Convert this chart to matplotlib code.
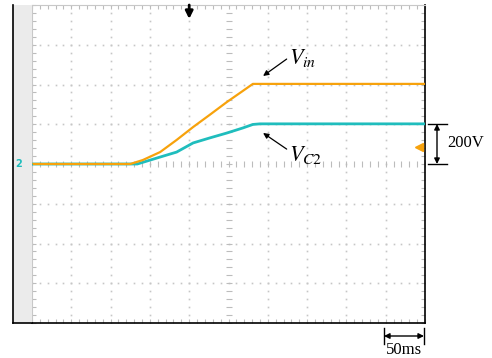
import numpy as np
import matplotlib
matplotlib.use("Agg")
import matplotlib.pyplot as plt
from matplotlib.patches import Rectangle
from matplotlib.lines import Line2D


# =========================================================
# DATA  (time in ms, voltage in V)
# =========================================================

t_in = [0, 99, 125, 141, 163, 184, 205, 226, 248, 268, 281, 500]
v_in = [0, 0, 0, 20, 60, 121, 186, 247, 312, 367, 403, 403]

t_c2 = [0, 134, 163, 184, 205, 226, 248, 268, 281, 290, 500]
v_c2 = [0, 0, 35, 60, 106, 131, 156, 181, 199, 202, 202]

trig_time = 200      # ms
trig_level = 86      # V

label_in = r"$V_{in}$"
label_c2 = r"$V_{C\mathit{2}}$"
volt_div = "200V"
time_div = "50ms"


# =========================================================
# STYLE
# =========================================================

ORANGE = "#f7a20c"
CYAN = "#1fbdbd"
GRID = "#c6c6c6"
TICK = "#bcbcbc"

plt.rcParams["mathtext.fontset"] = "stix"
plt.rcParams["font.family"] = ["Liberation Serif", "DejaVu Serif"]

W, H = 492, 358


def fx(x):
    return x / W


def fy(y):
    return 1 - y / H


# =========================================================
# FIGURE
# =========================================================

fig = plt.figure(figsize=(W / 100, H / 100), dpi=100)
ax = fig.add_axes([fx(32), fy(323), fx(425) - fx(32), fy(5) - fy(323)])
ax.set_xlim(0, 500)
ax.set_ylim(-800, 800)

# gray strip on the left + outer frame
fig.patches.append(Rectangle((fx(13), fy(323)), fx(32) - fx(13), fy(5) - fy(323),
                             transform=fig.transFigure, facecolor="#ebebeb",
                             edgecolor="none", zorder=0))
fig.add_artist(Line2D([fx(13), fx(13)], [fy(323), fy(5)], color="black", lw=1.2))
fig.add_artist(Line2D([fx(13), fx(32)], [fy(323), fy(323)], color="black", lw=1.2))

for side in ["top", "left"]:
    ax.spines[side].set_color("#c8c8c8")
for side in ["right", "bottom"]:
    ax.spines[side].set_color("black")
    ax.spines[side].set_linewidth(1.2)

# edge ticks (5 per division)
ax.set_xticks(np.arange(0, 501, 10))
ax.set_yticks(np.arange(-800, 801, 40))
ax.tick_params(direction="in", length=3, width=0.8, color=TICK,
               top=True, right=True, labelbottom=False, labelleft=False)

# dotted graticule
xs = np.arange(0, 501, 10)
ys = np.arange(-800, 801, 40)
for xg in range(50, 500, 50):
    if xg == 250:
        continue
    ax.plot(np.full(len(ys), xg), ys, ls="none", marker="s", ms=1.2,
            mew=0, color=GRID, zorder=1)
for yg in [-600, -400, -200, 200, 400, 600]:
    ax.plot(xs, np.full(len(xs), yg), ls="none", marker="s", ms=1.2,
            mew=0, color=GRID, zorder=1)

# center cross with tick marks
ax.plot(xs, np.zeros(len(xs)), ls="none", marker="|", ms=4, mew=0.8,
        color=TICK, zorder=1)
ax.plot(np.full(len(ys), 250), ys, ls="none", marker="_", ms=4, mew=0.8,
        color=TICK, zorder=1)

# =========================================================
# TRACES
# =========================================================

ax.plot(t_c2, v_c2, color=CYAN, lw=2.0, zorder=3)
ax.plot(t_in, v_in, color=ORANGE, lw=1.6, zorder=4)

# trigger position / level markers
ax.annotate("", xy=(trig_time, 730), xytext=(trig_time, 800),
            arrowprops=dict(arrowstyle="-|>", color="black", lw=2.0,
                            mutation_scale=11, shrinkA=0, shrinkB=0),
            annotation_clip=False, zorder=5)
ax.plot([492], [trig_level], marker="<", color=ORANGE, ms=6, ls="none",
        clip_on=False, zorder=5)

# channel ground marker
ax.plot([-9, -4], [0, 0], color=ORANGE, lw=1.2, clip_on=False, zorder=5)
ax.plot([-4], [0], marker=">", color=CYAN, ms=4, ls="none", clip_on=False, zorder=5)
fig.text(fx(18.5), fy(164), "2", color=CYAN, fontsize=7, fontweight="bold",
         ha="center", va="center", family="DejaVu Sans")

# =========================================================
# LABELS
# =========================================================

arrow_kw = dict(arrowstyle="-|>", color="black", lw=0.9, mutation_scale=8,
                shrinkA=0, shrinkB=0)

ax.annotate("", xy=(294, 443), xytext=(324, 528), arrowprops=arrow_kw)
ax.text(327, 503, label_in, fontsize=16, ha="left", va="baseline")

ax.annotate("", xy=(294, 156), xytext=(324, 75), arrowprops=arrow_kw)
ax.text(327, 15, label_c2, fontsize=16, ha="left", va="baseline")

# scale bars (outside the screen)
bar_kw = dict(arrowstyle="<|-|>", color="black", lw=1.0, mutation_scale=8,
              shrinkA=0, shrinkB=0)

fig.add_artist(Line2D([fx(428), fx(447)], [fy(124), fy(124)], color="black", lw=1))
fig.add_artist(Line2D([fx(428), fx(447)], [fy(164), fy(164)], color="black", lw=1))
ax.annotate("", xy=(fx(437), fy(164)), xytext=(fx(437), fy(124)),
            xycoords="figure fraction", textcoords="figure fraction",
            arrowprops=bar_kw)
fig.text(fx(447), fy(143), volt_div, fontsize=12, ha="left", va="center")

fig.add_artist(Line2D([fx(384), fx(384)], [fy(328), fy(344)], color="black", lw=1))
fig.add_artist(Line2D([fx(424), fx(424)], [fy(328), fy(344)], color="black", lw=1))
ax.annotate("", xy=(fx(424), fy(336)), xytext=(fx(384), fy(336)),
            xycoords="figure fraction", textcoords="figure fraction",
            arrowprops=bar_kw)
fig.text(fx(404), fy(350), time_div, fontsize=12, ha="center", va="center")

fig.savefig("out.png", dpi=100)
print("✅ Done")
